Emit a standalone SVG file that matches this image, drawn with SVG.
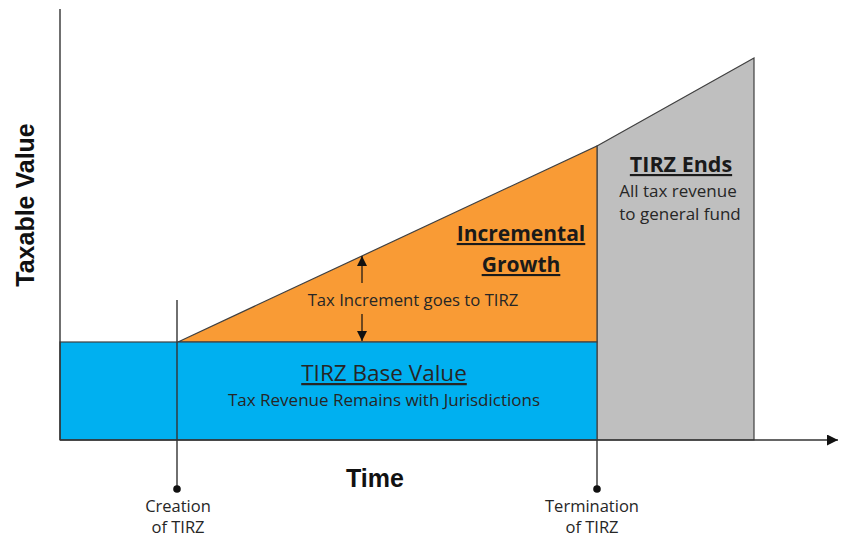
<svg xmlns="http://www.w3.org/2000/svg" width="847" height="538" viewBox="0 0 847 538">
<style>
.ax{stroke:#333;stroke-width:1.4;fill:none}
.edge{stroke:#404040;stroke-width:1.2}
.t{font-family:"Open Sans","Noto Sans",sans-serif;fill:#262626;text-anchor:middle}
.b{font-family:"Open Sans","Noto Sans",sans-serif;font-weight:bold;fill:#1a1a1a;text-anchor:middle;text-decoration:underline}
.lab{font-family:"Liberation Sans",Arial,sans-serif;font-weight:bold;fill:#111;text-anchor:middle}
</style>
<defs>
<marker id="ah" viewBox="0 0 10 10" refX="10" refY="5" markerWidth="10" markerHeight="10" markerUnits="userSpaceOnUse" orient="auto-start-reverse">
<path d="M0,0 L10,5 L0,10 z" fill="#111"/>
</marker>
<marker id="axh" viewBox="0 0 10 10" refX="10" refY="5" markerWidth="11" markerHeight="11" markerUnits="userSpaceOnUse" orient="auto">
<path d="M0,0 L10,5 L0,10 z" fill="#111"/>
</marker>
</defs>
<rect width="847" height="538" fill="#fff"/>
<g id="ends">
<polygon class="edge" points="597,146 754,58 754,440 597,440" fill="#BFBFBF"/>
<text class="b" x="681" y="172" font-size="21.5">TIRZ Ends</text>
<text class="t" x="678" y="197" font-size="17">All tax revenue</text>
<text class="t" x="680" y="220" font-size="17">to general fund</text>
</g>
<g id="growth">
<polygon class="edge" points="178,342 597,146 597,342" fill="#F99B35"/>
<text class="b" x="521" y="241" font-size="21">Incremental</text>
<text class="b" x="521" y="272" font-size="21">Growth</text>
</g>
<g id="base">
<rect class="edge" x="60" y="342" width="537" height="98" fill="#00B0F0"/>
<text class="t" x="384" y="381" font-size="22.5" text-decoration="underline" fill="#1a1a1a">TIRZ Base Value</text>
<text class="t" x="384" y="406" font-size="17">Tax Revenue Remains with Jurisdictions</text>
</g>
<g id="connectors">
<line class="ax" x1="60" y1="9" x2="60" y2="440"/>
<line class="ax" x1="60" y1="440" x2="838" y2="440" marker-end="url(#axh)"/>
<line x1="362" y1="283" x2="362" y2="256" stroke="#111" stroke-width="1.2" marker-end="url(#ah)"/>
<line x1="362" y1="314" x2="362" y2="341" stroke="#111" stroke-width="1.2" marker-end="url(#ah)"/>
<line class="ax" x1="177" y1="300" x2="177" y2="489"/>
<circle cx="177" cy="489" r="3.8" fill="#111"/>
<line class="ax" x1="597" y1="440" x2="597" y2="489"/>
<circle cx="597" cy="489" r="3.8" fill="#111"/>
</g>
<g id="increment-label">
<text class="t" x="413" y="306" font-size="16.7">Tax Increment goes to TIRZ</text>
</g>
<g id="axis-labels">
<text class="lab" x="0" y="0" font-size="25" transform="translate(34,205) rotate(-90)">Taxable Value</text>
<text class="lab" x="375" y="487" font-size="25">Time</text>
</g>
<g id="creation">
<text class="t" x="178" y="512" font-size="16.5">Creation</text>
<text class="t" x="178" y="533" font-size="16.5">of TIRZ</text>
</g>
<g id="termination">
<text class="t" x="592" y="512" font-size="16.5">Termination</text>
<text class="t" x="592" y="533" font-size="16.5">of TIRZ</text>
</g>
</svg>
